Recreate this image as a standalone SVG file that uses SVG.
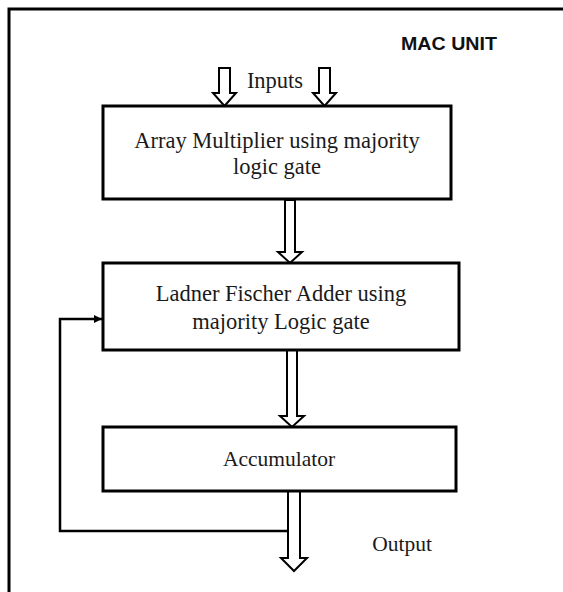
<svg xmlns="http://www.w3.org/2000/svg" width="563" height="592" viewBox="0 0 563 592">
  <defs>
    <marker id="tip" viewBox="0 0 10 10" refX="10" refY="5" markerWidth="8" markerHeight="8" markerUnits="userSpaceOnUse" orient="auto">
      <path d="M0,0 L10,5 L0,10 Z" fill="#000"/>
    </marker>
  </defs>
  <style>
    .frame { fill: none; stroke: #000; stroke-width: 3; }
    .box { fill: #fff; stroke: #000; stroke-width: 3; }
    .label { font-family: "Liberation Serif", "Times New Roman", serif; font-size: 22.5px; fill: #1a1a1a; text-anchor: middle; }
    .small { font-size: 21.5px; }
    .title { font-family: "Liberation Sans", Arial, sans-serif; font-weight: bold; font-size: 19px; fill: #111; }
    .fat { fill: #fff; stroke: #000; stroke-width: 2; stroke-linejoin: miter; }
    .wire { fill: none; stroke: #000; stroke-width: 2.5; }
  </style>

  <rect width="563" height="592" fill="#fff"/>
  <!-- outer frame, only left and top edges fall inside the canvas -->
  <rect class="frame" x="9" y="9" width="600" height="650"/>

  <text class="title" x="401" y="50" textLength="96" lengthAdjust="spacingAndGlyphs">MAC UNIT</text>

  <g id="connectors">
    <!-- input block arrows -->
    <path class="fat" d="M219,68 H230 V93 H236 L224.5,106 L213,93 H219 Z"/>
    <path class="fat" d="M319,68 H330 V93 H336 L324.5,106 L313,93 H319 Z"/>
    <!-- multiplier to adder -->
    <path class="fat" d="M285,200 H295 V252 H302 L290,263 L278,252 H285 Z"/>
    <!-- adder to accumulator -->
    <path class="fat" d="M287,350 H297 V416 H304 L292,427 L280,416 H287 Z"/>
    <!-- output arrow -->
    <path class="fat" d="M288,491 H300 V558 H307 L294,571 L281,558 H288 Z"/>
    <!-- feedback path -->
    <path class="wire" d="M288,531 H60 V319 H102" marker-end="url(#tip)"/>
  </g>

  <text class="label" x="275" y="88">Inputs</text>

  <g id="multiplier">
    <rect class="box" x="103" y="106" width="348" height="93"/>
    <text class="label" x="277" y="148">Array Multiplier using majority</text>
    <text class="label" x="277" y="174">logic gate</text>
  </g>

  <g id="adder">
    <rect class="box" x="103" y="263" width="356" height="87"/>
    <text class="label" x="281" y="301">Ladner Fischer Adder using</text>
    <text class="label" x="281" y="329">majority Logic gate</text>
  </g>

  <g id="accumulator">
    <rect class="box" x="103" y="427" width="353" height="64"/>
    <text class="label small" x="279" y="466">Accumulator</text>
  </g>

  <text class="label small" x="402" y="551">Output</text>
</svg>
